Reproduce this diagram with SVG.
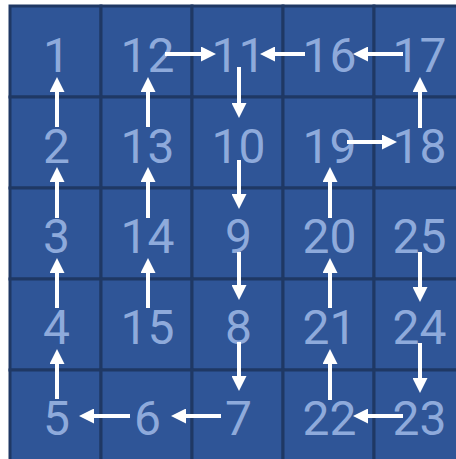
<svg xmlns="http://www.w3.org/2000/svg" width="456" height="459" viewBox="0 0 456 459">
<defs>
<style>
.cell{fill:#2f5597;stroke:#1f3864;stroke-width:3}
.num{font-family:Roboto,"DejaVu Sans",sans-serif;font-size:48px;fill:#8eaadb;text-anchor:middle}
.arr{stroke:#ffffff;stroke-width:4;fill:none;marker-end:url(#ah)}
</style>
<marker id="ah" viewBox="0 0 15 15" markerWidth="15" markerHeight="15" markerUnits="userSpaceOnUse" refX="0" refY="7.5" orient="auto">
<path d="M0,0 L15,7.5 L0,15 z" fill="#ffffff"/>
</marker>
</defs>
<rect width="456" height="459" fill="#ffffff"/>
<g id="grid">
<rect class="cell" x="10" y="6" width="91" height="91"/>
<rect class="cell" x="101" y="6" width="91" height="91"/>
<rect class="cell" x="192" y="6" width="91" height="91"/>
<rect class="cell" x="283" y="6" width="91" height="91"/>
<rect class="cell" x="374" y="6" width="91" height="91"/>
<rect class="cell" x="10" y="97" width="91" height="91"/>
<rect class="cell" x="101" y="97" width="91" height="91"/>
<rect class="cell" x="192" y="97" width="91" height="91"/>
<rect class="cell" x="283" y="97" width="91" height="91"/>
<rect class="cell" x="374" y="97" width="91" height="91"/>
<rect class="cell" x="10" y="188" width="91" height="91"/>
<rect class="cell" x="101" y="188" width="91" height="91"/>
<rect class="cell" x="192" y="188" width="91" height="91"/>
<rect class="cell" x="283" y="188" width="91" height="91"/>
<rect class="cell" x="374" y="188" width="91" height="91"/>
<rect class="cell" x="10" y="279" width="91" height="91"/>
<rect class="cell" x="101" y="279" width="91" height="91"/>
<rect class="cell" x="192" y="279" width="91" height="91"/>
<rect class="cell" x="283" y="279" width="91" height="91"/>
<rect class="cell" x="374" y="279" width="91" height="91"/>
<rect class="cell" x="10" y="370" width="91" height="91"/>
<rect class="cell" x="101" y="370" width="91" height="91"/>
<rect class="cell" x="192" y="370" width="91" height="91"/>
<rect class="cell" x="283" y="370" width="91" height="91"/>
<rect class="cell" x="374" y="370" width="91" height="91"/>
</g>
<g id="n1"><text class="num" x="56.5" y="72">1</text></g>
<g id="n2"><text class="num" x="56.5" y="163">2</text></g>
<g id="n3"><text class="num" x="56.5" y="253">3</text></g>
<g id="n4"><text class="num" x="56.5" y="344">4</text></g>
<g id="n5"><text class="num" x="56.5" y="435">5</text></g>
<g id="n12"><text class="num" x="147.5" y="72">12</text></g>
<g id="n13"><text class="num" x="147.5" y="163">13</text></g>
<g id="n14"><text class="num" x="147.5" y="253">14</text></g>
<g id="n15"><text class="num" x="147.5" y="344">15</text></g>
<g id="n6"><text class="num" x="147.5" y="435">6</text></g>
<g id="n11"><text class="num" x="238.5" y="72">11</text></g>
<g id="n10"><text class="num" x="238.5" y="163">10</text></g>
<g id="n9"><text class="num" x="238.5" y="253">9</text></g>
<g id="n8"><text class="num" x="238.5" y="344">8</text></g>
<g id="n7"><text class="num" x="238.5" y="435">7</text></g>
<g id="n16"><text class="num" x="329.5" y="72">16</text></g>
<g id="n19"><text class="num" x="329.5" y="163">19</text></g>
<g id="n20"><text class="num" x="329.5" y="253">20</text></g>
<g id="n21"><text class="num" x="329.5" y="344">21</text></g>
<g id="n22"><text class="num" x="329.5" y="435">22</text></g>
<g id="n17"><text class="num" x="419.5" y="72">17</text></g>
<g id="n18"><text class="num" x="419.5" y="163">18</text></g>
<g id="n25"><text class="num" x="419.5" y="253">25</text></g>
<g id="n24"><text class="num" x="419.5" y="344">24</text></g>
<g id="n23"><text class="num" x="419.5" y="435">23</text></g>
<g id="connectors">
<line class="arr" x1="57" y1="127" x2="57" y2="92"/>
<line class="arr" x1="57" y1="218" x2="57" y2="182"/>
<line class="arr" x1="57" y1="308" x2="57" y2="273"/>
<line class="arr" x1="57" y1="399" x2="57" y2="364"/>
<line class="arr" x1="130" y1="416" x2="94" y2="416"/>
<line class="arr" x1="221" y1="416" x2="186" y2="416"/>
<line class="arr" x1="239" y1="342" x2="239" y2="376"/>
<line class="arr" x1="239" y1="252" x2="239" y2="285"/>
<line class="arr" x1="239" y1="160" x2="239" y2="194"/>
<line class="arr" x1="239" y1="67" x2="239" y2="103"/>
<line class="arr" x1="165" y1="54" x2="201" y2="54"/>
<line class="arr" x1="148" y1="127" x2="148" y2="92"/>
<line class="arr" x1="148" y1="218" x2="148" y2="182"/>
<line class="arr" x1="148" y1="308" x2="148" y2="273"/>
<line class="arr" x1="305" y1="54" x2="275" y2="54"/>
<line class="arr" x1="403" y1="54" x2="368" y2="54"/>
<line class="arr" x1="420" y1="128" x2="420" y2="92"/>
<line class="arr" x1="347" y1="142" x2="382" y2="142"/>
<line class="arr" x1="330" y1="218" x2="330" y2="182"/>
<line class="arr" x1="330" y1="308" x2="330" y2="273"/>
<line class="arr" x1="330" y1="400" x2="330" y2="364"/>
<line class="arr" x1="403" y1="416" x2="368" y2="416"/>
<line class="arr" x1="420" y1="343" x2="420" y2="378"/>
<line class="arr" x1="420" y1="252" x2="420" y2="287"/>
</g>
</svg>
